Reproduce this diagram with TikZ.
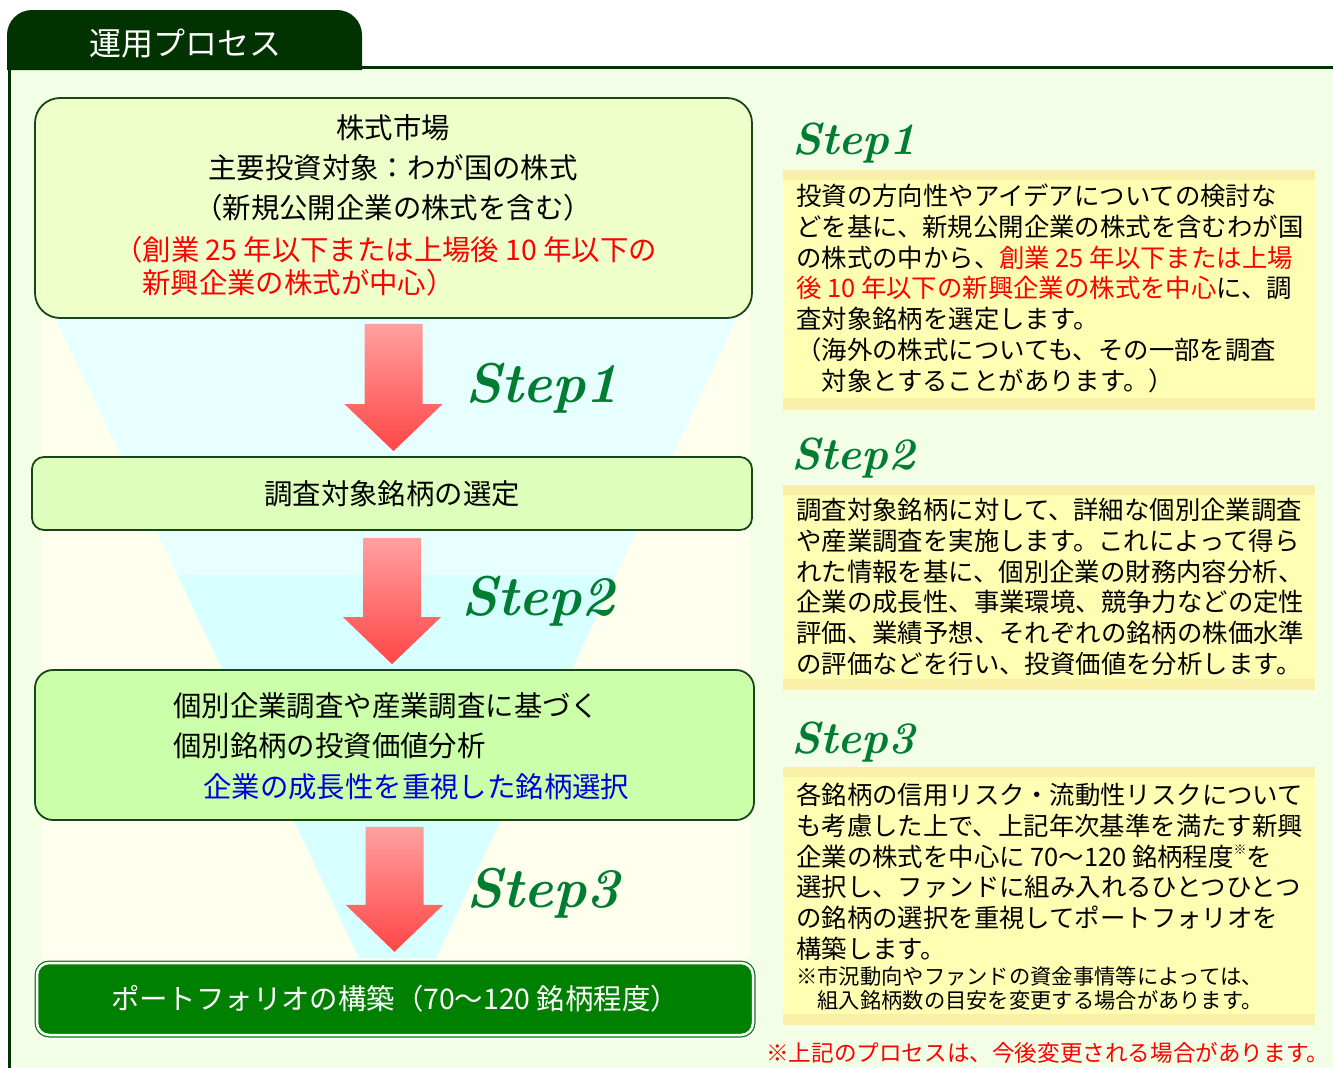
\documentclass[tikz,border=0pt]{standalone}
\usepackage{fontspec}
\newfontfamily\jp{Noto Sans CJK JP}
\usetikzlibrary{calc}
\definecolor{darkgreen}{RGB}{0,51,0}
\definecolor{panelgreen}{RGB}{242,255,230}
\definecolor{panelyellow}{RGB}{255,255,238}
\definecolor{funnelup}{RGB}{232,255,255}
\definecolor{funneldown}{RGB}{216,255,255}
\definecolor{boxline}{RGB}{25,70,25}
\definecolor{boxA}{RGB}{238,255,202}
\definecolor{boxB}{RGB}{221,255,187}
\definecolor{boxC}{RGB}{204,255,170}
\definecolor{boxD}{RGB}{0,128,0}
\definecolor{steptext}{RGB}{0,125,50}
\definecolor{notefill}{RGB}{255,255,180}
\definecolor{noteband}{RGB}{249,239,166}
\definecolor{arrowtop}{RGB}{255,160,160}
\definecolor{arrowbot}{RGB}{255,70,70}
\definecolor{redtext}{RGB}{255,0,0}
\definecolor{bluetext}{RGB}{0,0,220}

% block arrow from top centre #1 to tip #2
\newcommand{\redarrow}[2]{%
  \shade[top color=arrowtop,bottom color=arrowbot] let \p1=(#1), \p2=(#2) in
    (\x1-29pt,\y1) -- (\x1+29pt,\y1) -- (\x1+29pt,\y2+47pt) -- (\x1+49pt,\y2+47pt)
    -- (\x1,\y2) -- (\x1-49pt,\y2+47pt) -- (\x1-29pt,\y2+47pt) -- cycle;}

\begin{document}
\begin{tikzpicture}[x=1pt,y=-1pt,line join=round,
  box/.style={draw=boxline,line width=1.8pt,inner sep=0pt},
  bigtext/.style={font={\jp\fontsize{28.4}{34}\selectfont}},
  notetext/.style={font={\jp\fontsize{25.4}{30.7}\selectfont},align=left,anchor=north west,inner sep=0pt},
  smallnote/.style={font={\jp\fontsize{21.3}{24}\selectfont},align=left,anchor=north west,inner sep=0pt},
  steplabel/.style={font={\fontsize{56}{60}\selectfont\bfseries\itshape},text=steptext},
  steptitle/.style={font={\fontsize{45}{48}\selectfont\bfseries\itshape},text=steptext}]

    \useasboundingbox (0,0) rectangle (1333,1068);
    \fill[white] (0,0) rectangle (1333,1068);

    % frame and title tab
    \fill[panelgreen] (9,67) rectangle (1333,1068);
    \fill[darkgreen] (7,70) [rounded corners=25pt] -- (7,10) -- (362,10) [sharp corners] -- (362,70) -- cycle;
    \draw[darkgreen,line width=3pt] (9,40) -- (9,1068);
    \draw[darkgreen,line width=3pt] (9,67) -- (1333,67);
    \node[font={\jp\fontsize{32}{36}\selectfont},text=white] (title) at (185,44) {運用プロセス};

    % funnel behind the left column
    \fill[panelyellow] (42,200) rectangle (750,958);
    \fill[funnelup] (55,318) -- (737,318) -- (436,958) -- (359,958) -- cycle;
    \fill[funneldown] (178,575) -- (616,575) -- (436,958) -- (359,958) -- cycle;

    % left column boxes
    \node[box,rounded corners=25pt,fill=boxA,minimum width=717pt,minimum height=220pt] (market) at (393.5,208) {};
    \node[box,rounded corners=12pt,fill=boxB,minimum width=720pt,minimum height=73pt,bigtext] (select) at (392,493.5) {調査対象銘柄の選定};
    \node[box,rounded corners=18pt,fill=boxC,minimum width=719pt,minimum height=150pt] (analysis) at (394.5,745) {};
    \node[fill=boxD,draw=white,line width=2.5pt,rounded corners=12pt,inner sep=0pt,
          preaction={draw=white,line width=9pt},preaction={draw=boxD,line width=5pt},
          minimum width=716pt,minimum height=72pt,bigtext,text=white] (portfolio) at (395,999)
          {ポートフォリオの構築（70～120 銘柄程度）};

    \node[bigtext] (marketA) at (393,128) {株式市場};
    \node[bigtext] (marketB) at (393,168) {主要投資対象：わが国の株式};
    \node[bigtext] (marketC) at (393,208) {（新規公開企業の株式を含む）};
    \node[bigtext,text=redtext,anchor=west,inner sep=0pt] (marketD) at (114,250) {（創業 25 年以下または上場後 10 年以下の};
    \node[bigtext,text=redtext,anchor=west,inner sep=0pt] (marketE) at (142,283) {新興企業の株式が中心）};

    \node[bigtext,anchor=west,inner sep=0pt] (analysisA) at (173,706) {個別企業調査や産業調査に基づく};
    \node[bigtext,anchor=west,inner sep=0pt] (analysisB) at (173,746) {個別銘柄の投資価値分析};
    \node[bigtext,text=bluetext,anchor=west,inner sep=0pt] (analysisC) at (203,787) {企業の成長性を重視した銘柄選択};

    % arrows between the boxes
    \coordinate (a1top) at ([yshift=-5pt]market.south);
    \coordinate (a1tip) at ([yshift=5pt]select.north);
    \coordinate (a2top) at ([yshift=-7pt]select.south);
    \coordinate (a2tip) at ([yshift=5pt]analysis.north);
    \coordinate (a3top) at ([yshift=-6pt]analysis.south);
    \coordinate (a3tip) at ([yshift=10pt]portfolio.north);
    \redarrow{a1top}{a1tip}
    \redarrow{a2top}{a2tip}
    \redarrow{a3top}{a3tip}

    \node[steplabel] (stepA) at (542,388) {Step1};
    \node[steplabel] (stepB) at (538,601) {Step2};
    \node[steplabel] (stepC) at (543,893) {Step3};

    % right column notes
    \node[steptitle] (titleA) at (854,143) {Step1};
    \fill[noteband] (783,170) rectangle (1315,410);
    \fill[notefill] (783,180) rectangle (1315,398);
    \node[notetext] (noteA) at (796,184) {投資の方向性やアイデアについての検討な\\
      どを基に、新規公開企業の株式を含むわが国\\
      の株式の中から、\textcolor{redtext}{創業 25 年以下または上場}\\
      \textcolor{redtext}{後 10 年以下の新興企業の株式を中心}に、調\\
      査対象銘柄を選定します。\\
      （海外の株式についても、その一部を調査\\
      　対象とすることがあります。）};

    \node[steptitle] (titleB) at (853,458) {Step2};
    \fill[noteband] (783,485) rectangle (1315,690);
    \fill[notefill] (783,495) rectangle (1315,679);
    \node[notetext] (noteB) at (796,498) {調査対象銘柄に対して、詳細な個別企業調査\\
      や産業調査を実施します。これによって得ら\\
      れた情報を基に、個別企業の財務内容分析、\\
      企業の成長性、事業環境、競争力などの定性\\
      評価、業績予想、それぞれの銘柄の株価水準\\
      の評価などを行い、投資価値を分析します。};

    \node[steptitle] (titleC) at (853,742) {Step3};
    \fill[noteband] (783,767) rectangle (1315,1025);
    \fill[notefill] (783,777) rectangle (1315,1014);
    \node[notetext] (noteC) at (796,783) {各銘柄の信用リスク・流動性リスクについて\\
      も考慮した上で、上記年次基準を満たす新興\\
      企業の株式を中心に 70～120 銘柄程度\raisebox{0.45em}{\fontsize{13}{13}\selectfont ※}を\\
      選択し、ファンドに組み入れるひとつひとつ\\
      の銘柄の選択を重視してポートフォリオを\\
      構築します。};
    \node[smallnote] (noteD) at (796,966) {※市況動向やファンドの資金事情等によっては、\\
      　組入銘柄数の目安を変更する場合があります。};

    \node[font={\jp\fontsize{22.6}{26}\selectfont},text=redtext,anchor=west,inner sep=0pt] (remark) at (766,1053)
      {※上記のプロセスは、今後変更される場合があります。};
\end{tikzpicture}
\end{document}
